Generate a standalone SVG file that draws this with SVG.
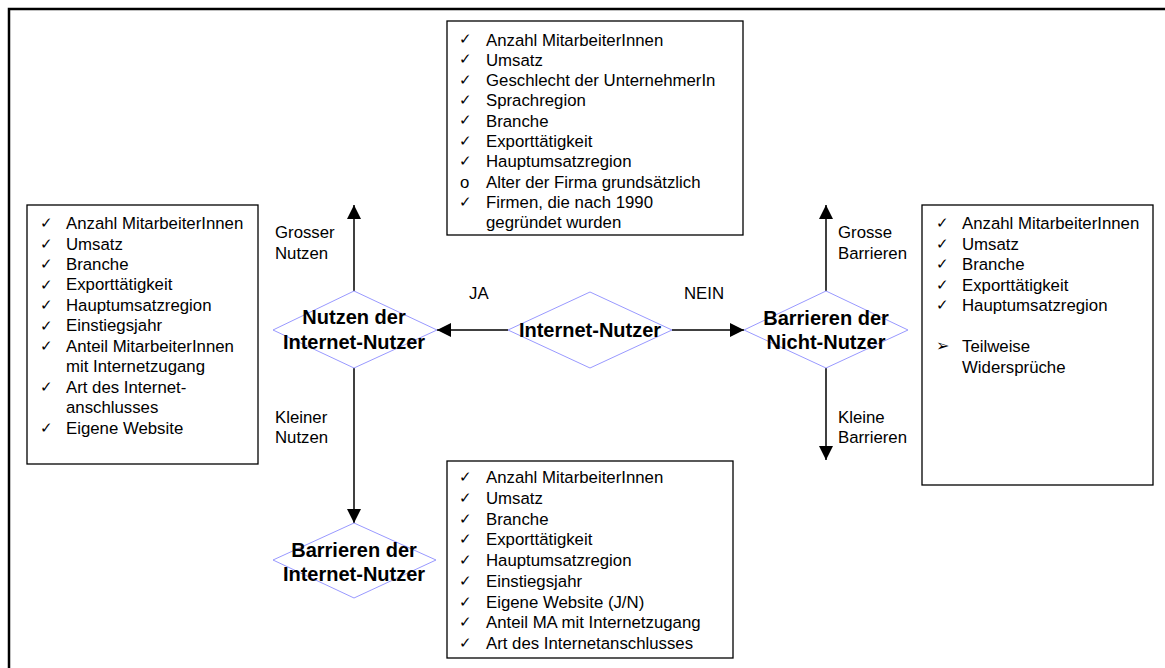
<svg xmlns="http://www.w3.org/2000/svg" width="1165" height="668" viewBox="0 0 1165 668">
<style>
text{font-family:"Liberation Sans",Arial,sans-serif;fill:#000}
.t{font-size:16.8px}
.ck{font-family:"DejaVu Sans",sans-serif;font-size:15px}
.b{font-size:20px;font-weight:bold;text-anchor:middle}
.box{fill:#fff;stroke:#000;stroke-width:1.3}
.dia{fill:none;stroke:#9999ff;stroke-width:1}
.con{stroke:#000;stroke-width:1.5;fill:none;marker-end:url(#ah)}
</style>
<defs>
<marker id="ah" markerUnits="userSpaceOnUse" markerWidth="14" markerHeight="14" viewBox="0 0 14 14" refX="14" refY="7" orient="auto">
<path d="M0,0 L14,7 L0,14 z" fill="#000"/>
</marker>
</defs>
<rect width="1165" height="668" fill="#fff"/>
<path d="M9,668 V9 H1165" fill="none" stroke="#000" stroke-width="2.5"/>

<g id="connectors">
<line class="con" x1="354" y1="291" x2="354" y2="205"/>
<line class="con" x1="354" y1="368" x2="354" y2="523"/>
<line class="con" x1="508" y1="330" x2="437" y2="330"/>
<line class="con" x1="672" y1="330" x2="744" y2="330"/>
<line class="con" x1="826" y1="291" x2="826" y2="205"/>
<line class="con" x1="826" y1="368" x2="826" y2="460"/>
<text class="t" x="275" y="238">Grosser</text>
<text class="t" x="275" y="259">Nutzen</text>
<text class="t" x="275" y="423">Kleiner</text>
<text class="t" x="275" y="443">Nutzen</text>
<text class="t" x="469" y="299">JA</text>
<text class="t" x="684" y="299">NEIN</text>
<text class="t" x="838" y="238">Grosse</text>
<text class="t" x="838" y="259">Barrieren</text>
<text class="t" x="838" y="423">Kleine</text>
<text class="t" x="838" y="443">Barrieren</text>
</g>

<g id="top-box">
<rect class="box" x="447" y="21" width="296" height="214"/>
<g class="ck">
<text x="459" y="44">✓</text><text x="459" y="64">✓</text><text x="459" y="85">✓</text><text x="459" y="105">✓</text><text x="459" y="125">✓</text><text x="459" y="146">✓</text><text x="459" y="166">✓</text><text x="459" y="207">✓</text>
</g>
<text class="t" x="460" y="187.6">o</text>
<g class="t">
<text x="486" y="45.5">Anzahl MitarbeiterInnen</text>
<text x="486" y="65.8">Umsatz</text>
<text x="486" y="86.1">Geschlecht der UnternehmerIn</text>
<text x="486" y="106.4">Sprachregion</text>
<text x="486" y="126.7">Branche</text>
<text x="486" y="147">Exporttätigkeit</text>
<text x="486" y="167.3">Hauptumsatzregion</text>
<text x="486" y="187.6">Alter der Firma grundsätzlich</text>
<text x="486" y="207.9">Firmen, die nach 1990</text>
<text x="486" y="228.2">gegründet wurden</text>
</g>
</g>

<g id="left-box">
<rect class="box" x="27" y="205" width="231" height="259"/>
<g class="ck">
<text x="40" y="228">✓</text><text x="40" y="248.5">✓</text><text x="40" y="269">✓</text><text x="40" y="289.5">✓</text><text x="40" y="310">✓</text><text x="40" y="330.5">✓</text><text x="40" y="351">✓</text><text x="40" y="392">✓</text><text x="40" y="433">✓</text>
</g>
<g class="t">
<text x="66" y="229">Anzahl MitarbeiterInnen</text>
<text x="66" y="249.5">Umsatz</text>
<text x="66" y="270">Branche</text>
<text x="66" y="290.4">Exporttätigkeit</text>
<text x="66" y="310.8">Hauptumsatzregion</text>
<text x="66" y="331.2">Einstiegsjahr</text>
<text x="66" y="351.7">Anteil MitarbeiterInnen</text>
<text x="66" y="372.2">mit Internetzugang</text>
<text x="66" y="392.6">Art des Internet-</text>
<text x="66" y="413">anschlusses</text>
<text x="66" y="433.5">Eigene Website</text>
</g>
</g>

<g id="right-box">
<rect class="box" x="922" y="205" width="231" height="280"/>
<g class="ck">
<text x="936" y="228">✓</text><text x="936" y="248.6">✓</text><text x="936" y="269">✓</text><text x="936" y="290">✓</text><text x="936" y="310">✓</text>
</g>
<text x="936" y="351" style="font-family:'DejaVu Sans',sans-serif;font-size:16px">➢</text>
<g class="t">
<text x="962" y="229">Anzahl MitarbeiterInnen</text>
<text x="962" y="249.6">Umsatz</text>
<text x="962" y="270.2">Branche</text>
<text x="962" y="290.8">Exporttätigkeit</text>
<text x="962" y="311.4">Hauptumsatzregion</text>
<text x="962" y="352">Teilweise</text>
<text x="962" y="372.6">Widersprüche</text>
</g>
</g>

<g id="bottom-box">
<rect class="box" x="447" y="461" width="286" height="197"/>
<g class="ck">
<text x="459" y="482">✓</text><text x="459" y="502.7">✓</text><text x="459" y="523.5">✓</text><text x="459" y="544.2">✓</text><text x="459" y="565">✓</text><text x="459" y="585.7">✓</text><text x="459" y="606.5">✓</text><text x="459" y="627.2">✓</text><text x="459" y="648">✓</text>
</g>
<g class="t">
<text x="486" y="483">Anzahl MitarbeiterInnen</text>
<text x="486" y="503.7">Umsatz</text>
<text x="486" y="524.5">Branche</text>
<text x="486" y="545.2">Exporttätigkeit</text>
<text x="486" y="566">Hauptumsatzregion</text>
<text x="486" y="586.7">Einstiegsjahr</text>
<text x="486" y="607.5">Eigene Website (J/N)</text>
<text x="486" y="628.2">Anteil MA mit Internetzugang</text>
<text x="486" y="649">Art des Internetanschlusses</text>
</g>
</g>

<g id="internet-nutzer">
<polygon class="dia" points="590,292 672,330 590,368 508,330"/>
<text class="b" x="590" y="337">Internet-Nutzer</text>
</g>

<g id="nutzen-der-internet-nutzer">
<polygon class="dia" points="354,291 437,330 354,368 273,330"/>
<text class="b" x="354" y="324">Nutzen der</text>
<text class="b" x="354" y="349">Internet-Nutzer</text>
</g>

<g id="barrieren-der-nicht-nutzer">
<polygon class="dia" points="826,291 908,330 826,368 744,330"/>
<text class="b" x="826" y="325">Barrieren der</text>
<text class="b" x="826" y="349">Nicht-Nutzer</text>
</g>

<g id="barrieren-der-internet-nutzer">
<polygon class="dia" points="354,523 436,560 354,598 273,560"/>
<text class="b" x="354" y="557">Barrieren der</text>
<text class="b" x="354" y="581">Internet-Nutzer</text>
</g>
</svg>
